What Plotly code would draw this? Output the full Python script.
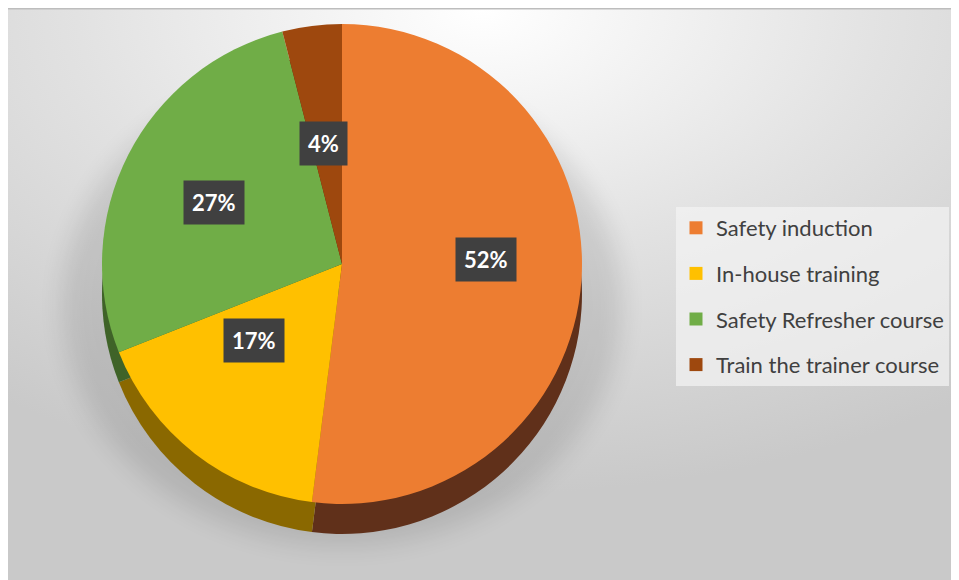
import base64
import math
import plotly.graph_objects as go

# ---- data ----
labels = ["Safety induction", "In-house training", "Safety Refresher course", "Train the trainer course"]
values = [52, 17, 27, 4]

# ---- style ----
top_colors = ["#ED7D31", "#FFC000", "#70AD47", "#9E480E"]
side_colors = ["#60301A", "#8A6800", "#3F6328", "#552607"]
OFF = 8                      # page body margin of the browser
W, H = 959 - OFF, 580 - OFF  # figure size
CX, CY, R, DEPTH = 342, 264, 240, 30   # in window pixels
FONT = "Lato, 'Noto Sans', sans-serif"


def px(x):   # window x -> paper
    return (x - OFF) / W


def py(y):   # window y -> paper
    return 1 - (y - OFF) / H


def dom(cy):
    return dict(x=[px(CX - R), px(CX + R)], y=[py(cy + R), py(cy - R)])


fig = go.Figure()

# 3D-looking side (darker copy, shifted down)
fig.add_trace(go.Pie(labels=labels, values=values, sort=False, direction="clockwise",
                     rotation=0, domain=dom(CY + DEPTH), textinfo="none", hoverinfo="skip",
                     marker=dict(colors=side_colors, line=dict(width=0)), showlegend=False))
# top surface
fig.add_trace(go.Pie(labels=labels, values=values, sort=False, direction="clockwise",
                     rotation=0, domain=dom(CY), textinfo="none",
                     marker=dict(colors=top_colors, line=dict(width=0)), showlegend=False))

# legend entries (separate groups to get wider spacing)
for lab, col in zip(labels, top_colors):
    fig.add_trace(go.Scatter(x=[None], y=[None], mode="markers", name=lab, legendgroup=lab,
                             marker=dict(symbol="square", size=13, color=col), hoverinfo="skip"))

# percentage labels in dark boxes, placed at each slice's mid-angle (tilted-view ellipse)
total = sum(values)
cum = 0
annotations = []
for v in values:
    th = 2 * math.pi * (cum + v / 2) / total
    cum += v
    xw = CX + 0.60 * R * math.sin(th)
    yw = CY - 11 - 0.46 * R * math.cos(th)
    annotations.append(dict(x=px(xw), y=py(yw), xref="paper", yref="paper",
                            xanchor="center", yanchor="middle",
                            text=f"<b>{round(v / total * 100)}%</b>", showarrow=False,
                            font=dict(family=FONT, size=22, color="white"),
                            bgcolor="#404040", borderpad=8))

# background: radial gradient + soft shadow under the pie
x0w, y0w = 6, 9
bw, bh = 959 - x0w, 580 - y0w
svg = f'''<svg xmlns="http://www.w3.org/2000/svg" width="{bw}" height="{bh}" viewBox="0 0 {bw} {bh}" preserveAspectRatio="none">
<defs>
<radialGradient id="g" cx="0.5" cy="0.0" r="0.85" fx="0.5" fy="0.0">
<stop offset="0" stop-color="#ffffff"/><stop offset="0.5" stop-color="#e2e2e2"/><stop offset="1" stop-color="#c9c9c9"/>
</radialGradient>
<filter id="b" x="-20%" y="-20%" width="140%" height="140%"><feGaussianBlur stdDeviation="12"/></filter>
</defs>
<rect width="{bw}" height="{bh}" fill="url(#g)"/>
<ellipse cx="{CX - x0w}" cy="{CY + DEPTH + 12 - y0w}" rx="{R + 40}" ry="{R}" fill="#000" opacity="0.10" filter="url(#b)"/>
</svg>'''
src = "data:image/svg+xml;base64," + base64.b64encode(svg.encode()).decode()

fig.update_layout(
    width=W, height=H,
    margin=dict(l=0, r=0, t=0, b=0),
    paper_bgcolor="white", plot_bgcolor="rgba(0,0,0,0)",
    xaxis=dict(visible=False), yaxis=dict(visible=False),
    images=[dict(source=src, xref="paper", yref="paper", x=px(x0w), y=py(y0w),
                 sizex=bw / W, sizey=bh / H, sizing="stretch", layer="below",
                 xanchor="left", yanchor="top")],
    shapes=[dict(type="line", xref="paper", yref="paper", x0=px(x0w), x1=1, y0=py(8.5), y1=py(8.5),
                 line=dict(color="#bdbdbd", width=2), layer="below"),
            dict(type="line", xref="paper", yref="paper", x0=px(x0w), x1=px(x0w), y0=0, y1=py(8.5),
                 line=dict(color="#c4c4c4", width=1), layer="below")],
    annotations=annotations,
    legend=dict(x=px(676), y=py(207), xanchor="left", yanchor="top",
                bgcolor="rgba(244,244,244,0.7)", tracegroupgap=14,
                font=dict(family=FONT, size=22, color="#404040")),
    showlegend=True,
)

fig.write_html("out.html")
